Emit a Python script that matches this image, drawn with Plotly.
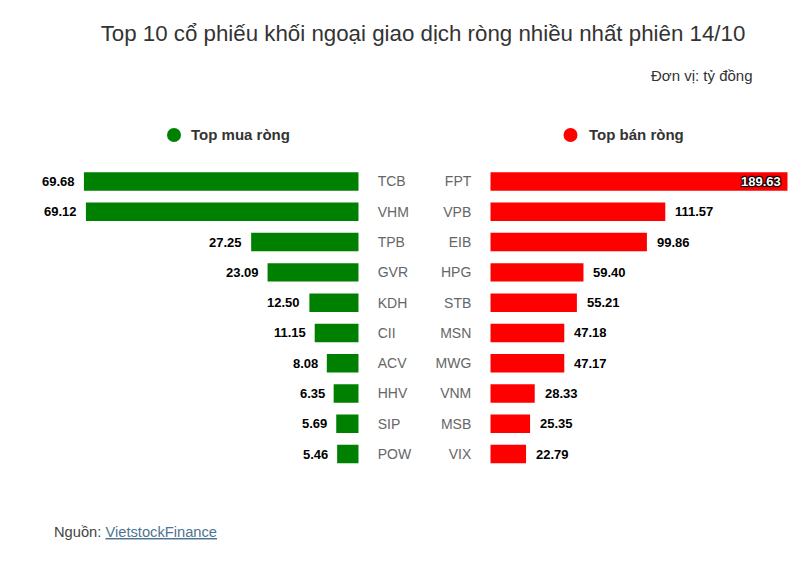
import plotly.graph_objects as go

buy_names = ["TCB", "VHM", "TPB", "GVR", "KDH", "CII", "ACV", "HHV", "SIP", "POW"]
buy_values = [69.68, 69.12, 27.25, 23.09, 12.50, 11.15, 8.08, 6.35, 5.69, 5.46]
sell_names = ["FPT", "VPB", "EIB", "HPG", "STB", "MSN", "MWG", "VNM", "MSB", "VIX"]
sell_values = [189.63, 111.57, 99.86, 59.40, 55.21, 47.18, 47.17, 28.33, 25.35, 22.79]

title_text = "Top 10 cổ phiếu khối ngoại giao dịch ròng nhiều nhất phiên 14/10"
unit_text = "Đơn vị: tỷ đồng"
legend_buy = "Top mua ròng"
legend_sell = "Top bán ròng"

W, H = 807, 571
FONT = "Liberation Sans, Arial, sans-serif"
GREEN = "#008000"
RED = "#ff0000"


def px(x):
    return x / W


def py(y):
    return 1 - y / H


fig = go.Figure()
fig.add_trace(go.Bar(
    x=buy_values, y=buy_names, orientation="h", marker=dict(color=GREEN, line=dict(width=0)),
    width=0.61, xaxis="x", yaxis="y", hoverinfo="skip", showlegend=False,
))
fig.add_trace(go.Bar(
    x=sell_values, y=sell_names, orientation="h", marker=dict(color=RED, line=dict(width=0)),
    width=0.61, xaxis="x2", yaxis="y2", hoverinfo="skip", showlegend=False,
))

ydom = [py(469.2), py(166.4)]
n = len(buy_names)

annotations = []
for name, v in zip(buy_names, buy_values):
    annotations.append(dict(
        x=v, y=name, xref="x", yref="y", text=f"{v:.2f}", showarrow=False,
        xanchor="right", yanchor="middle", xshift=-7,
        font=dict(family=FONT, size=13, color="#000000", weight="bold"),
    ))
smax = max(sell_values)
for name, v in zip(sell_names, sell_values):
    if v > 0.9 * smax:
        annotations.append(dict(
            x=v, y=name, xref="x2", yref="y2", text=f"{v:.2f}", showarrow=False,
            xanchor="right", yanchor="middle", xshift=-5,
            font=dict(family=FONT, size=13, color="#ffffff", weight="bold",
                      shadow="1px 1px 1px #000, -1px -1px 1px #000, 1px -1px 1px #000, -1px 1px 1px #000"),
        ))
    else:
        annotations.append(dict(
            x=v, y=name, xref="x2", yref="y2", text=f"{v:.2f}", showarrow=False,
            xanchor="left", yanchor="middle", xshift=8,
            font=dict(family=FONT, size=13, color="#000000", weight="bold"),
        ))

annotations += [
    dict(x=px(755), y=py(76), xref="paper", yref="paper", text=unit_text, showarrow=False,
         xanchor="right", yanchor="middle", font=dict(family=FONT, size=15, color="#333333")),
    dict(x=px(188.5), y=py(135), xref="paper", yref="paper", text=legend_buy, showarrow=False,
         xanchor="left", yanchor="middle", font=dict(family=FONT, size=15, color="#333333", weight="bold")),
    dict(x=px(586.5), y=py(135), xref="paper", yref="paper", text=legend_sell, showarrow=False,
         xanchor="left", yanchor="middle", font=dict(family=FONT, size=15, color="#333333", weight="bold")),
    dict(x=px(51.5), y=py(531.5), xref="paper", yref="paper",
         text="Nguồn: <span style='color:#4f7592'><u>VietstockFinance</u></span>", showarrow=False,
         xanchor="left", yanchor="middle", font=dict(family=FONT, size=14.7, color="#444444")),
]

shapes = [
    dict(type="circle", xref="paper", yref="paper", x0=px(167), x1=px(181), y0=py(142), y1=py(128),
         fillcolor=GREEN, line=dict(width=0)),
    dict(type="circle", xref="paper", yref="paper", x0=px(563.5), x1=px(577.5), y0=py(142), y1=py(128),
         fillcolor=RED, line=dict(width=0)),
]

fig.update_layout(
    width=W, height=H,
    margin=dict(l=0, r=0, t=0, b=0),
    paper_bgcolor="white", plot_bgcolor="white",
    font=dict(family=FONT),
    title=dict(text=title_text, x=px(423), y=py(33), xanchor="center", yanchor="middle",
               xref="paper", yref="paper",
               font=dict(family=FONT, size=22.3, color="#333333")),
    xaxis=dict(domain=[px(83.7), px(358.7)], range=[max(buy_values), 0], visible=False, fixedrange=True),
    xaxis2=dict(domain=[px(490.3), px(787.7)], range=[0, smax], visible=False, fixedrange=True),
    yaxis=dict(domain=ydom, anchor="x", side="right", type="category", categoryarray=buy_names,
               range=[n - 0.5, -0.5], showgrid=False, zeroline=False, showline=False, ticks="",
               ticklabelstandoff=18, tickfont=dict(family=FONT, size=14, color="#666666"), fixedrange=True),
    yaxis2=dict(domain=ydom, anchor="x2", side="left", type="category", categoryarray=sell_names,
                range=[n - 0.5, -0.5], showgrid=False, zeroline=False, showline=False, ticks="",
                ticklabelstandoff=18, tickfont=dict(family=FONT, size=14, color="#666666"), fixedrange=True),
    annotations=annotations,
    shapes=shapes,
    bargap=0.39,
)

fig.write_html("out.html", config={"displayModeBar": False},
               post_script="document.body.style.margin='0';")
